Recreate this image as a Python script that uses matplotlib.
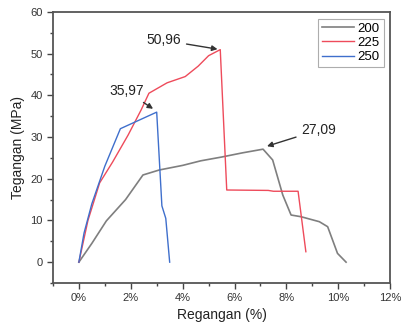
import matplotlib
matplotlib.use("Agg")
import matplotlib.pyplot as plt
from matplotlib.ticker import MultipleLocator, FuncFormatter

plt.rcParams['font.family'] = ['Liberation Sans', 'DejaVu Sans']

# strain (%) and stress (MPa)
x200 = [0, 0.5, 1.06, 1.8, 2.47, 3.1, 4.0, 4.7, 5.5, 6.3, 7.1, 7.47, 7.86, 8.18, 8.56, 9.27, 9.59, 9.97, 10.3]
y200 = [0, 4.5, 9.9, 15.0, 20.9, 22.1, 23.2, 24.3, 25.2, 26.2, 27.09, 24.5, 16.1, 11.3, 10.9, 9.7, 8.5, 2.1, 0]

x225 = [0, 0.35, 0.8, 1.3, 1.9, 2.4, 2.7, 3.4, 4.1, 4.6, 5.0, 5.45, 5.7, 7.3, 7.5, 8.45, 8.75]
y225 = [0, 10, 19, 24, 30.5, 36.5, 40.5, 43, 44.5, 47, 49.5, 50.96, 17.3, 17.2, 17.0, 17.0, 2.5]

x250 = [0, 0.2, 0.5, 1.0, 1.6, 3.0, 3.2, 3.35, 3.5]
y250 = [0, 7, 14, 23, 32, 35.97, 13.5, 10.5, 0]

fig = plt.figure(figsize=(4.01, 3.31), dpi=100)
ax = fig.add_axes([0.132, 0.145, 0.841, 0.819])

ax.plot(x200, y200, color='#7f7f7f', lw=1.2, label='200')
ax.plot(x225, y225, color='#ee4b5b', lw=1.0, label='225')
ax.plot(x250, y250, color='#3f6fcc', lw=1.0, label='250')

ax.set_xlim(-1, 12)
ax.set_ylim(-5, 60)
ax.xaxis.set_major_locator(MultipleLocator(2))
ax.xaxis.set_minor_locator(MultipleLocator(1))
ax.yaxis.set_major_locator(MultipleLocator(10))
ax.yaxis.set_minor_locator(MultipleLocator(5))
ax.xaxis.set_major_formatter(FuncFormatter(lambda v, p: f"{v:.0f}%"))
ax.tick_params(which='both', direction='out', top=False, right=False,
               colors='#444444', labelcolor='#333333', labelsize=8, width=1.0)
ax.tick_params(which='major', length=4)
ax.tick_params(which='minor', length=2.5)
for s in ax.spines.values():
    s.set_color('#555555')
    s.set_linewidth(1.3)

ax.set_xlabel('Regangan (%)', fontsize=10, color='#222222', labelpad=3)
ax.set_ylabel('Tegangan (MPa)', fontsize=10, color='#222222', labelpad=4)

arrow = dict(arrowstyle='-|>', color='#333333', lw=1.0, mutation_scale=8)
ax.annotate('50,96', xy=(5.45, 50.96), xytext=(3.27, 53.2), fontsize=10,
            color='#222222', ha='center', va='center', arrowprops=arrow)
ax.annotate('35,97', xy=(2.95, 36.4), xytext=(1.83, 41.0), fontsize=10,
            color='#222222', ha='center', va='center', arrowprops=arrow)
ax.annotate('27,09', xy=(7.15, 27.6), xytext=(9.25, 31.7), fontsize=10,
            color='#222222', ha='center', va='center', arrowprops=arrow)

leg = ax.legend(loc='upper right', fontsize=9.5, frameon=True, fancybox=False,
                handlelength=2.4, borderpad=0.3, labelspacing=0.15,
                handletextpad=0.3, borderaxespad=0.5)
leg.get_frame().set_edgecolor('#999999')
leg.get_frame().set_linewidth(0.8)

fig.savefig('out.png', dpi=100)
